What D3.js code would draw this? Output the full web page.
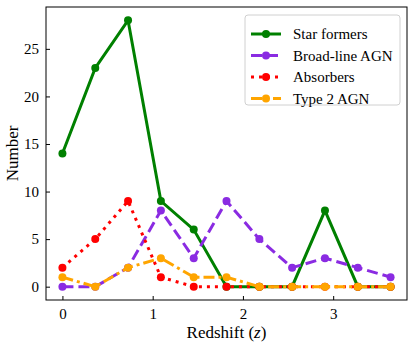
<!DOCTYPE html>
<html>
<head>
<meta charset="utf-8">
<script src="https://cdn.jsdelivr.net/npm/d3@7"></script>
</head>
<body style="margin:0">
<script>
// redshift bins (left edges) and counts per class
var redshift = [0, 0.364, 0.727, 1.091, 1.455, 1.818, 2.182, 2.545, 2.909, 3.273, 3.636];
var starFormers = [14, 23, 28, 9, 6, 0, 0, 0, 8, 0, 0];
var broadLine = [0, 0, 2, 8, 3, 9, 5, 2, 3, 2, 1];
var absorbers = [2, 5, 9, 1, 0, 0, 0, 0, 0, 0, 0];
var type2 = [1, 0, 2, 3, 1, 1, 0, 0, 0, 0, 0];
var seriesNames = ["Star formers", "Broad-line AGN", "Absorbers", "Type 2 AGN"];
var xTicks = [0, 1, 2, 3];
var yTicks = [0, 5, 10, 15, 20, 25];

var serif = "'Liberation Serif'";

var series = [
  {name: seriesNames[0], values: starFormers, color: "green", dash: null},
  {name: seriesNames[1], values: broadLine, color: "#8a2be2", dash: "11,5"},
  {name: seriesNames[2], values: absorbers, color: "red", dash: "3,5"},
  {name: seriesNames[3], values: type2, color: "orange", dash: "11,4,3,4"}
];

var margin = {top: 7, right: 8, bottom: 46, left: 46},
    width = 415 - margin.left - margin.right,
    height = 346 - margin.top - margin.bottom;

var x = d3.scaleLinear().domain([-0.182, 3.818]).range([0, width]);
var y = d3.scaleLinear().domain([-1.4, 29.4]).range([height, 0]);

var root = d3.select("body").append("svg")
    .attr("width", 415)
    .attr("height", 346);
var svg = root.append("g")
    .attr("transform", "translate(" + margin.left + "," + margin.top + ")");

var line = d3.line()
    .x(function(d, i) { return x(redshift[i]); })
    .y(function(d) { return y(d); });

series.forEach(function(s) {
  svg.append("path")
      .datum(s.values)
      .attr("fill", "none")
      .attr("stroke", s.color)
      .attr("stroke-width", 3)
      .attr("stroke-dasharray", s.dash)
      .attr("d", line);
  svg.selectAll(null)
      .data(s.values)
    .enter().append("circle")
      .attr("cx", function(d, i) { return x(redshift[i]); })
      .attr("cy", function(d) { return y(d); })
      .attr("r", 4)
      .attr("fill", s.color);
});

// axes with inward ticks
var xAxis = svg.append("g")
    .attr("transform", "translate(0," + height + ")")
    .call(d3.axisBottom(x).tickValues(xTicks).tickFormat(d3.format("d")).tickSizeInner(-4).tickSizeOuter(0).tickPadding(8));
var yAxis = svg.append("g")
    .call(d3.axisLeft(y).tickValues(yTicks).tickSizeInner(-4).tickSizeOuter(0).tickPadding(7));

[xAxis, yAxis].forEach(function(a) {
  a.select(".domain").remove();
  a.selectAll("text").style("font-size", "15px").attr("fill", "#000");
  a.selectAll("line").attr("stroke", "#000");
});

// frame
svg.append("rect")
    .attr("width", width)
    .attr("height", height)
    .attr("fill", "none")
    .attr("stroke", "#000")
    .attr("stroke-width", 1);

// labels
var xl = svg.append("text")
    .attr("x", width / 2)
    .attr("y", height + 38)
    .attr("text-anchor", "middle")
    .style("font-size", "17px");
xl.append("tspan").text("Redshift (");
xl.append("tspan").attr("font-style", "italic").text("z");
xl.append("tspan").text(")");

svg.append("text")
    .attr("transform", "translate(" + (-28) + "," + (height / 2) + ") rotate(-90)")
    .attr("text-anchor", "middle")
    .style("font-size", "17px")
    .text("Number");

// legend
var legend = svg.append("g").attr("transform", "translate(199,8)");
legend.append("rect")
    .attr("width", 155)
    .attr("height", 90)
    .attr("rx", 3)
    .attr("fill", "#fff")
    .attr("fill-opacity", 0.8)
    .attr("stroke", "#d0d0d0");

series.forEach(function(s, i) {
  var row = legend.append("g").attr("transform", "translate(0," + (19 + i * 21.5) + ")");
  row.append("line")
      .attr("x1", 6).attr("x2", 36)
      .attr("stroke", s.color)
      .attr("stroke-width", 3)
      .attr("stroke-dasharray", s.dash);
  row.append("circle").attr("cx", 21).attr("r", 4).attr("fill", s.color);
  row.append("text")
      .attr("x", 48)
      .attr("dy", "0.35em")
      .style("font-size", "15px")
      .text(s.name);
});

// one serif face for every text
root.selectAll("text").style("font-family", serif);
</script>
</body>
</html>
